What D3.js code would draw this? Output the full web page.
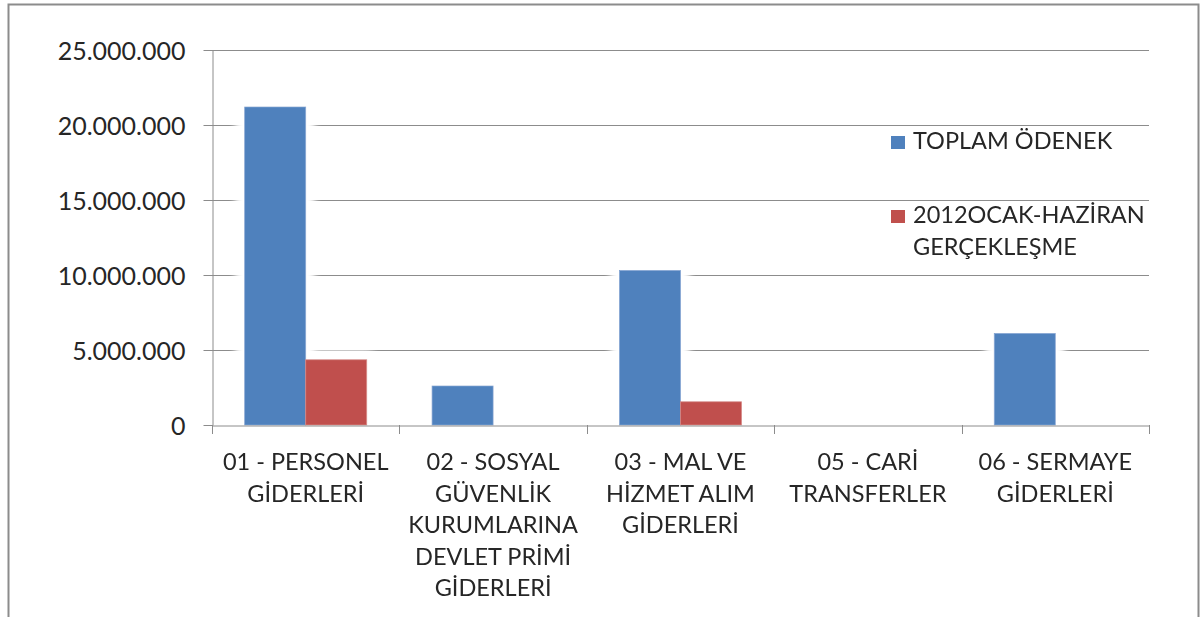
<!DOCTYPE html>
<html>
<head>
<meta charset="utf-8">
<script src="https://cdn.jsdelivr.net/npm/d3@7"></script>
<style>
  html, body { margin: 0; padding: 0; background: #fff; }
  svg { display: block; }
  text { font-family: Lato, "Open Sans", sans-serif; fill: #262626; }
</style>
</head>
<body>
<svg id="chart" width="1202" height="617"></svg>
<script>
// Budget categories (wrapped label lines per category)
const categories = [
  "01 - PERSONEL GİDERLERİ",
  "02 - SOSYAL GÜVENLİK KURUMLARINA DEVLET PRİMİ GİDERLERİ",
  "03 - MAL VE HİZMET ALIM GİDERLERİ",
  "05 - CARİ TRANSFERLER",
  "06 - SERMAYE GİDERLERİ"
];
const categoryLines = [
  ["01 - PERSONEL", "GİDERLERİ"],
  ["02 - SOSYAL", "GÜVENLİK", "KURUMLARINA", "DEVLET PRİMİ", "GİDERLERİ"],
  ["03 - MAL VE", "HİZMET ALIM", "GİDERLERİ"],
  ["05 - CARİ", "TRANSFERLER"],
  ["06 - SERMAYE", "GİDERLERİ"]
];
const seriesNames = ["TOPLAM ÖDENEK", "2012OCAK-HAZİRAN GERÇEKLEŞME"];
const legendLines = [["TOPLAM ÖDENEK"], ["2012OCAK-HAZİRAN", "GERÇEKLEŞME"]];
const toplamOdenek = [21200000, 2600000, 10300000, 0, 6100000];
const gerceklesme = [4350000, 0, 1550000, 0, 0];
const yTicks = [0, 5000000, 10000000, 15000000, 20000000, 25000000];
const colors = ["#4F81BD", "#C0504D"];

const svg = d3.select("#chart");

// Chart frame
svg.append("path")
  .attr("d", "M8.5,630 V4.5 H1198.5 V630")
  .attr("fill", "none")
  .attr("stroke", "#8c8c8c")
  .attr("stroke-width", 2);

const plot = { left: 212, right: 1149, top: 50, bottom: 425 };

const x = d3.scaleBand().domain(categories).range([plot.left, plot.right]);
const xs = d3.scaleBand().domain(seriesNames).range([0, x.bandwidth()])
  .paddingInner(0).paddingOuter(0.535);
const y = d3.scaleLinear().domain([0, 25000000]).range([plot.bottom, plot.top]);

const locale = d3.formatLocale({ decimal: ",", thousands: ".", grouping: [3], currency: ["", ""] });
const fmt = locale.format(",d");

// soft white halo around bars
const defs = svg.append("defs");
const f = defs.append("filter").attr("id", "halo")
  .attr("x", "-30%").attr("y", "-10%").attr("width", "160%").attr("height", "120%");
f.append("feMorphology").attr("in", "SourceAlpha").attr("operator", "dilate").attr("radius", 5).attr("result", "d");
f.append("feGaussianBlur").attr("in", "d").attr("stdDeviation", 5).attr("result", "b");
f.append("feFlood").attr("flood-color", "#fff").attr("result", "w");
f.append("feComposite").attr("in", "w").attr("in2", "b").attr("operator", "in").attr("result", "g");
const m = f.append("feMerge");
m.append("feMergeNode").attr("in", "g");
m.append("feMergeNode").attr("in", "g");
m.append("feMergeNode").attr("in", "g");
m.append("feMergeNode").attr("in", "SourceGraphic");

// Gridlines
svg.append("g")
  .selectAll("line")
  .data(yTicks.filter(d => d > 0))
  .join("line")
  .attr("x1", plot.left).attr("x2", plot.right)
  .attr("y1", d => Math.round(y(d)) + 0.5).attr("y2", d => Math.round(y(d)) + 0.5)
  .attr("stroke", "#8c8c8c").attr("stroke-width", 1);

// Y axis
const yAxis = svg.append("g")
  .attr("transform", `translate(${plot.left + 0.5},0)`)
  .call(d3.axisLeft(y).tickValues(yTicks).tickFormat(fmt).tickSizeInner(9).tickSizeOuter(0).tickPadding(18));
yAxis.select(".domain").attr("stroke", "#8c8c8c");
yAxis.selectAll(".tick line").attr("stroke", "#8c8c8c");
yAxis.selectAll(".tick text").attr("font-size", 25).attr("fill", "#262626").attr("dy", "0.36em")
  .style("font-family", "Lato, 'Open Sans', sans-serif");

// Bars
const data = categories.map((c, i) => ({ cat: c, vals: [toplamOdenek[i], gerceklesme[i]] }));
const groups = svg.append("g").attr("filter", "url(#halo)")
  .selectAll("g")
  .data(data)
  .join("g")
  .attr("transform", d => `translate(${x(d.cat)},0)`);
groups.selectAll("rect")
  .data(d => d.vals.map((v, j) => ({ s: seriesNames[j], v, j })).filter(e => e.v > 0))
  .join("rect")
  .attr("x", d => xs(d.s))
  .attr("width", xs.bandwidth())
  .attr("y", d => y(d.v))
  .attr("height", d => y(0) - y(d.v))
  .attr("fill", d => colors[d.j])
  .attr("stroke", d => d.j === 0 ? "#7ea3d3" : "#d88482")
  .attr("stroke-width", 0.8);

// X axis
const xAxis = svg.append("g")
  .attr("transform", `translate(0,${plot.bottom + 0.5})`)
  .call(d3.axisBottom(x).tickSize(0).tickFormat(""));
xAxis.select(".domain").attr("stroke", "#8c8c8c");
xAxis.selectAll(".tick").remove();
// category boundary ticks
svg.append("g")
  .selectAll("line")
  .data(categories.map(c => x(c)).concat([plot.right]))
  .join("line")
  .attr("x1", d => Math.round(d) + 0.5).attr("x2", d => Math.round(d) + 0.5)
  .attr("y1", plot.bottom).attr("y2", plot.bottom + 9)
  .attr("stroke", "#8c8c8c");

// Category labels
const labels = svg.append("g")
  .selectAll("text")
  .data(categories)
  .join("text")
  .attr("text-anchor", "middle")
  .attr("font-size", 23.5)
  .attr("x", d => x(d) + x.bandwidth() / 2)
  .attr("y", 470);
labels.selectAll("tspan")
  .data((d, i) => categoryLines[i])
  .join("tspan")
  .attr("x", function () { return this.parentNode.getAttribute("x"); })
  .attr("dy", (d, i) => i === 0 ? 0 : 31.5)
  .text(d => d);

// Legend
const legend = svg.append("g");
const legendY = [149, 223];
legendLines.forEach((lines, i) => {
  legend.append("rect")
    .attr("x", 891).attr("y", legendY[i] - 13)
    .attr("width", 14).attr("height", 13)
    .attr("fill", colors[i]);
  const t = legend.append("text")
    .attr("x", 913).attr("y", legendY[i])
    .attr("font-size", 23.5);
  t.selectAll("tspan").data(lines).join("tspan")
    .attr("x", 913)
    .attr("dy", (d, k) => k === 0 ? 0 : 32)
    .text(d => d);
});
</script>
</body>
</html>
